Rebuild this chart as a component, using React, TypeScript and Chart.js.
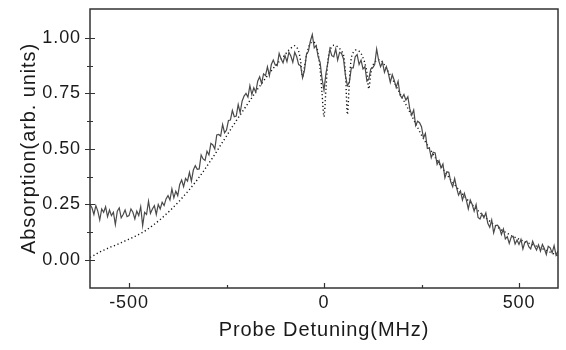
import React, { useEffect, useRef } from "react";
import { Chart, registerables } from "chart.js";

Chart.register(...registerables);

// Detuning grid (MHz): first sample and spacing of the recorded trace
const DETUNING_START = -600;
const DETUNING_STEP = 5;

// Measured absorption (solid, noisy trace), one value per 5 MHz from -600 to 600
const measured = [
  0.25, 0.235, 0.205, 0.245, 0.22, 0.18, 0.23, 0.215, 0.24, 0.195,
  0.225, 0.2, 0.215, 0.16, 0.22, 0.235, 0.19, 0.205, 0.225, 0.195,
  0.2, 0.23, 0.215, 0.185, 0.22, 0.2, 0.24, 0.155, 0.215, 0.205,
  0.265, 0.21, 0.23, 0.245, 0.205, 0.25, 0.23, 0.26, 0.245, 0.275,
  0.29, 0.27, 0.32, 0.28, 0.31, 0.29, 0.34, 0.36, 0.33, 0.367,
  0.355, 0.395, 0.355, 0.405, 0.425, 0.408, 0.41, 0.473, 0.455, 0.448,
  0.49, 0.473, 0.525, 0.518, 0.5, 0.563, 0.565, 0.558, 0.61, 0.573,
  0.585, 0.628, 0.63, 0.673, 0.645, 0.648, 0.7, 0.663, 0.715, 0.738,
  0.75, 0.733, 0.785, 0.745, 0.775, 0.755, 0.805, 0.825, 0.795, 0.838,
  0.83, 0.87, 0.83, 0.88, 0.9, 0.878, 0.875, 0.93, 0.905, 0.888,
  0.92, 0.893, 0.935, 0.918, 0.89, 0.935, 0.915, 0.88, 0.875, 0.82,
  0.855, 0.925, 0.94, 0.985, 1.015, 0.955, 0.965, 0.915, 0.89, 0.815,
  0.765, 0.84, 0.89, 0.95, 0.92, 0.915, 0.95, 0.9, 0.935, 0.93,
  0.905, 0.83, 0.785, 0.8, 0.865, 0.865, 0.915, 0.925, 0.88, 0.9,
  0.86, 0.87, 0.805, 0.815, 0.86, 0.865, 0.88, 0.95, 0.9, 0.87,
  0.89, 0.845, 0.87, 0.84, 0.8, 0.835, 0.81, 0.777, 0.805, 0.742,
  0.73, 0.745, 0.72, 0.735, 0.68, 0.652, 0.675, 0.605, 0.625, 0.618,
  0.6, 0.55, 0.57, 0.502, 0.505, 0.46, 0.485, 0.482, 0.43, 0.447,
  0.415, 0.432, 0.37, 0.397, 0.395, 0.352, 0.33, 0.367, 0.325, 0.292,
  0.31, 0.27, 0.3, 0.27, 0.23, 0.27, 0.25, 0.22, 0.25, 0.192,
  0.185, 0.207, 0.19, 0.212, 0.165, 0.147, 0.18, 0.122, 0.155, 0.157,
  0.145, 0.115, 0.14, 0.095, 0.105, 0.075, 0.103, 0.107, 0.072, 0.09,
  0.07, 0.093, 0.05, 0.08, 0.085, 0.06, 0.05, 0.085, 0.062, 0.045,
  0.068, 0.04, 0.07, 0.052, 0.025, 0.062, 0.055, 0.032, 0.065, 0.022,
  0.04,
];

// Calculated absorption (dotted curve), same grid
const theory = [
  0.012, 0.016, 0.021, 0.026, 0.031, 0.036, 0.04, 0.044, 0.048, 0.052,
  0.056, 0.06, 0.063, 0.067, 0.07, 0.074, 0.078, 0.082, 0.086, 0.09,
  0.094, 0.098, 0.102, 0.106, 0.11, 0.115, 0.12, 0.125, 0.13, 0.136,
  0.142, 0.148, 0.154, 0.161, 0.168, 0.175, 0.182, 0.19, 0.198, 0.206,
  0.214, 0.222, 0.231, 0.24, 0.249, 0.258, 0.267, 0.277, 0.287, 0.297,
  0.307, 0.317, 0.328, 0.339, 0.35, 0.361, 0.373, 0.385, 0.397, 0.41,
  0.423, 0.436, 0.449, 0.462, 0.475, 0.489, 0.503, 0.517, 0.531, 0.545,
  0.558, 0.572, 0.586, 0.6, 0.613, 0.627, 0.64, 0.653, 0.666, 0.679,
  0.692, 0.705, 0.718, 0.731, 0.744, 0.757, 0.77, 0.782, 0.794, 0.806,
  0.818, 0.83, 0.841, 0.852, 0.863, 0.874, 0.884, 0.894, 0.903, 0.912,
  0.925, 0.935, 0.945, 0.953, 0.96, 0.965, 0.958, 0.94, 0.895, 0.825,
  0.87, 0.92, 0.955, 0.975, 0.982, 0.98, 0.965, 0.93, 0.86, 0.75,
  0.645, 0.77, 0.9, 0.945, 0.96, 0.967, 0.965, 0.96, 0.952, 0.94,
  0.925, 0.84, 0.655, 0.8, 0.91, 0.935, 0.945, 0.945, 0.94, 0.93,
  0.91, 0.885, 0.845, 0.77, 0.84, 0.875, 0.89, 0.9, 0.902, 0.9,
  0.892, 0.878, 0.862, 0.847, 0.832, 0.816, 0.8, 0.783, 0.766, 0.749,
  0.732, 0.716, 0.7, 0.683, 0.666, 0.649, 0.632, 0.614, 0.597, 0.579,
  0.562, 0.547, 0.532, 0.518, 0.504, 0.49, 0.476, 0.462, 0.449, 0.436,
  0.423, 0.41, 0.397, 0.385, 0.373, 0.361, 0.35, 0.339, 0.328, 0.317,
  0.307, 0.297, 0.287, 0.277, 0.267, 0.258, 0.249, 0.24, 0.231, 0.222,
  0.214, 0.206, 0.198, 0.19, 0.182, 0.175, 0.168, 0.161, 0.154, 0.148,
  0.142, 0.136, 0.13, 0.125, 0.12, 0.115, 0.11, 0.106, 0.102, 0.098,
  0.094, 0.09, 0.087, 0.083, 0.079, 0.076, 0.072, 0.069, 0.065, 0.062,
  0.058, 0.055, 0.051, 0.047, 0.043, 0.039, 0.035, 0.031, 0.027, 0.023,
  0.02,
];

const xTicks = [-500, 0, 500];
const xMinorTicks = [-250, 250];
const yTicks = [0, 0.25, 0.5, 0.75, 1.0];
const yMinorTicks = [0.125, 0.375, 0.625, 0.875];

const X_MIN = -600;
const X_MAX = 600;
const Y_MIN = -0.126;
const Y_MAX = 1.13;

const xTitle = "Probe Detuning(MHz)";
const yTitle = "Absorption(arb. units)";

const FONT = "'Liberation Sans', Arial, Helvetica, sans-serif";
const TEXT = "#1a1a1a";
const FRAME = "#333333";

const toPoints = (vals: number[]) =>
  vals.map((v, i) => ({ x: DETUNING_START + i * DETUNING_STEP, y: v }));

const framePlugin = {
  id: "frameTicks",
  beforeDraw(chart: any) {
    chart.ctx.letterSpacing = "0.9px";
  },
  afterDraw(chart: any) {
    const { ctx, chartArea: a, scales } = chart;
    const xs = scales.x;
    const ys = scales.y;
    ctx.save();
    ctx.strokeStyle = FRAME;
    ctx.lineWidth = 1.5;
    ctx.strokeRect(a.left, a.top, a.right - a.left, a.bottom - a.top);
    ctx.lineWidth = 1.2;
    ctx.beginPath();
    xTicks.forEach((v) => {
      const px = Math.round(xs.getPixelForValue(v)) + 0.5;
      ctx.moveTo(px, a.bottom);
      ctx.lineTo(px, a.bottom - 5);
    });
    xMinorTicks.forEach((v) => {
      const px = Math.round(xs.getPixelForValue(v)) + 0.5;
      ctx.moveTo(px, a.bottom);
      ctx.lineTo(px, a.bottom - 3);
    });
    yTicks.forEach((v) => {
      const py = Math.round(ys.getPixelForValue(v)) + 0.5;
      ctx.moveTo(a.left - 5, py);
      ctx.lineTo(a.left + 5, py);
    });
    yMinorTicks.forEach((v) => {
      const py = Math.round(ys.getPixelForValue(v)) + 0.5;
      ctx.moveTo(a.left - 3, py);
      ctx.lineTo(a.left + 3, py);
    });
    ctx.stroke();
    ctx.restore();
  },
};

export default function App() {
  const ref = useRef<HTMLCanvasElement | null>(null);

  useEffect(() => {
    if (!ref.current) return;
    const chart = new Chart(ref.current, {
      type: "line",
      data: {
        datasets: [
          {
            label: "measured",
            data: toPoints(measured),
            borderColor: "#4a4a4a",
            borderWidth: 1.2,
            pointRadius: 0,
            tension: 0,
            fill: false,
          },
          {
            label: "theory",
            data: toPoints(theory),
            borderColor: "#111111",
            borderWidth: 1.4,
            borderDash: [1.2, 2.6],
            pointRadius: 0,
            tension: 0.3,
            fill: false,
          },
        ],
      },
      options: {
        animation: false,
        responsive: true,
        maintainAspectRatio: false,
        layout: { padding: { top: 9, right: 8, left: 0, bottom: 0 } },
        plugins: {
          legend: { display: false },
          tooltip: { enabled: false },
        },
        scales: {
          x: {
            type: "linear",
            min: X_MIN,
            max: X_MAX,
            afterBuildTicks: (s: any) => {
              s.ticks = xTicks.map((v) => ({ value: v }));
            },
            afterFit: (s: any) => {
              s.height = 62;
              s.paddingLeft = 0;
              s.paddingRight = 0;
            },
            grid: { display: false, drawTicks: false },
            border: { display: false },
            ticks: {
              color: TEXT,
              font: { family: FONT, size: 18 },
              padding: 4,
              maxRotation: 0,
              callback: (v: any) => String(v),
            },
            title: {
              display: true,
              text: xTitle,
              color: TEXT,
              font: { family: FONT, size: 20 },
              padding: { top: 0, bottom: 8 },
            },
          },
          y: {
            type: "linear",
            min: Y_MIN,
            max: Y_MAX,
            afterBuildTicks: (s: any) => {
              s.ticks = yTicks.map((v) => ({ value: v }));
            },
            afterFit: (s: any) => {
              s.width = 90;
              s.paddingTop = 0;
              s.paddingBottom = 0;
            },
            grid: { display: false, drawTicks: false },
            border: { display: false },
            ticks: {
              color: TEXT,
              font: { family: FONT, size: 18 },
              padding: 9,
              callback: (v: any) => Number(v).toFixed(2),
            },
            title: {
              display: true,
              text: yTitle,
              color: TEXT,
              font: { family: FONT, size: 20 },
              padding: { top: 17, bottom: 0 },
            },
          },
        },
      },
      plugins: [framePlugin],
    });
    return () => chart.destroy();
  }, []);

  return (
    <div
      style={{
        position: "fixed",
        left: 0,
        top: 0,
        width: 566,
        height: 350,
        background: "#ffffff",
      }}
    >
      <canvas ref={ref} />
    </div>
  );
}
